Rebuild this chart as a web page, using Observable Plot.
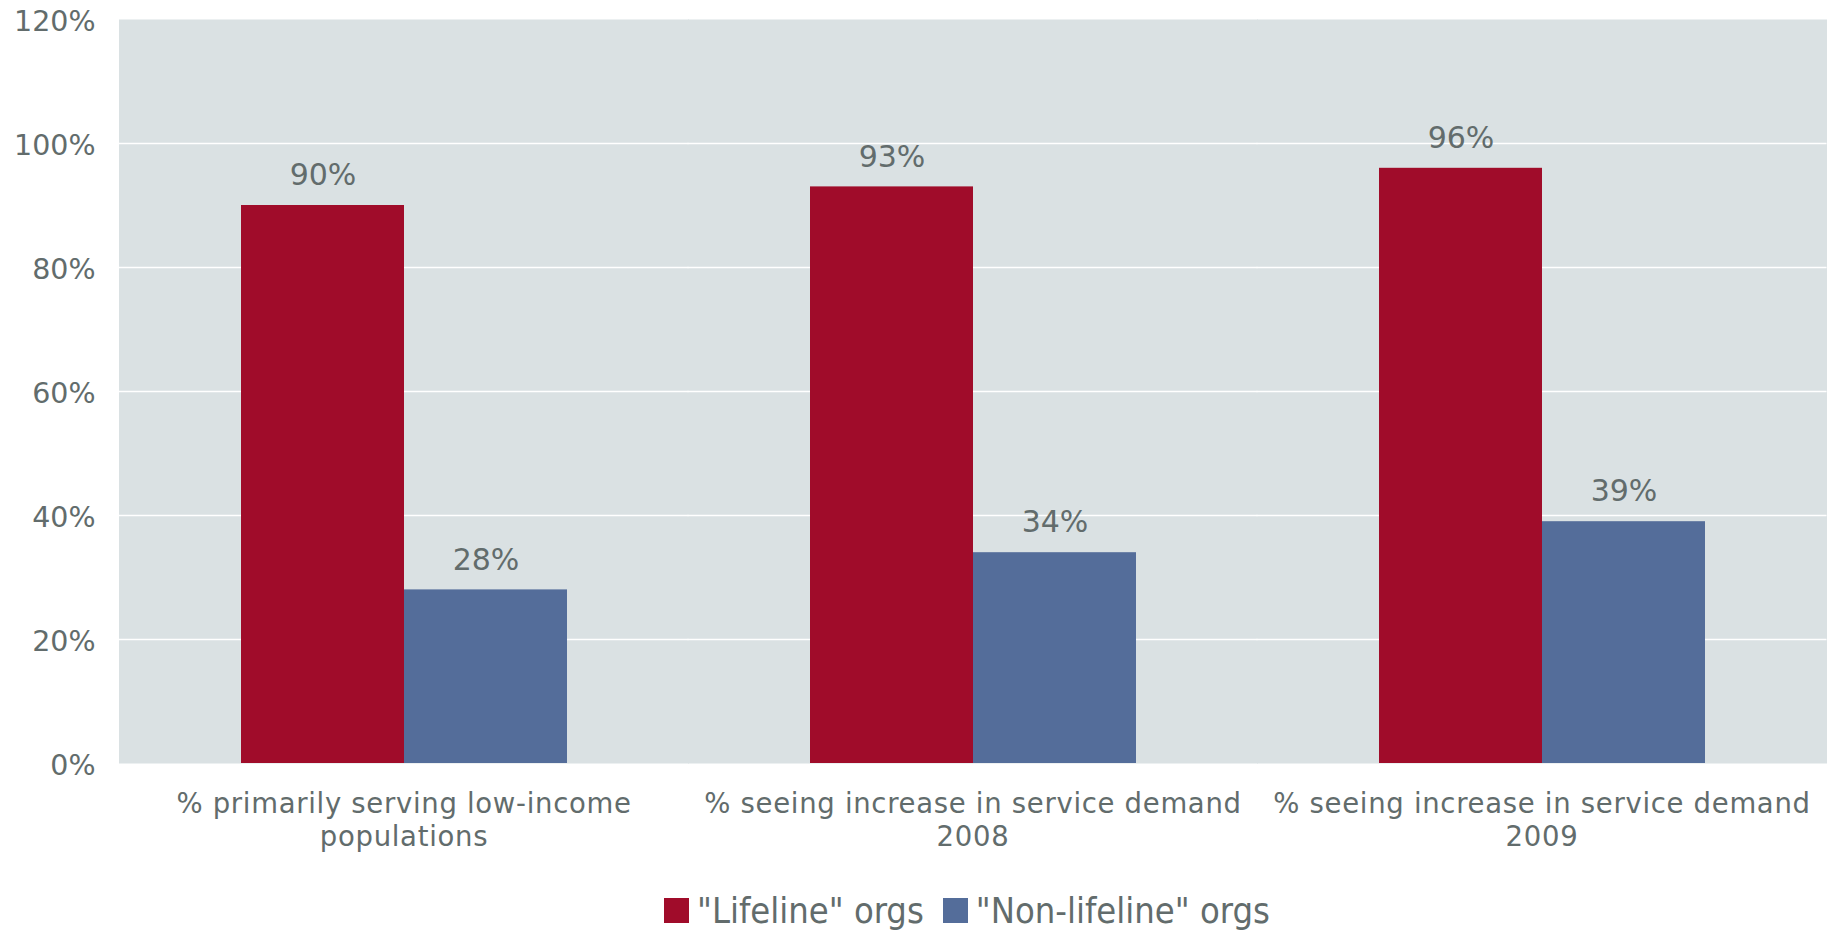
<!DOCTYPE html>
<html>
<head>
<meta charset="utf-8">
<script src="https://cdn.jsdelivr.net/npm/d3@7"></script>
<script src="https://cdn.jsdelivr.net/npm/@observablehq/plot@0.6"></script>
<style>
  html, body { margin: 0; padding: 0; background: #ffffff; }
  #wrap { position: relative; width: 1834px; height: 932px; overflow: hidden; }
  g[aria-label="fx-axis tick label"] { letter-spacing: 0.7px; }
  #legend {
    position: absolute; left: 664px; top: 892px; height: 37px;
    font-family: "DejaVu Sans Condensed", "DejaVu Sans", sans-serif;
    font-size: 36px; line-height: 37px; white-space: nowrap; color: #626c6c;
  }
  #legend .sw { display: inline-block; width: 25px; height: 25px; vertical-align: baseline; margin-right: 8px; }
  #legend .item { margin-right: 19px; }
</style>
</head>
<body>
<div id="wrap"><div id="chart"></div><div id="legend"></div></div>
<script>
// ---- data ----
const categories = [
  "% primarily serving low-income\npopulations",
  "% seeing increase in service demand\n2008",
  "% seeing increase in service demand\n2009"
];
const seriesNames = ['"Lifeline" orgs', '"Non-lifeline" orgs'];
const lifeline = [90, 93, 96];
const nonLifeline = [28, 34, 39];
const yTicks = [0, 20, 40, 60, 80, 100, 120];
const gridTicks = [20, 40, 60, 80, 100];
const seriesColors = ["#a00c2a", "#546d9a"];

// ---- table ----
const rows = [];
categories.forEach((c, i) => {
  rows.push({category: c, series: seriesNames[0], value: lifeline[i]});
  rows.push({category: c, series: seriesNames[1], value: nonLifeline[i]});
});

const textColor = "#626c6c";

const chart = Plot.plot({
  width: 1834,
  height: 870,
  marginLeft: 119,
  marginRight: 8,
  marginTop: 19,
  marginBottom: 107,
  style: {fontFamily: "'DejaVu Sans', Verdana, sans-serif", background: "transparent"},
  fx: {domain: categories, padding: 0, label: null},
  x: {domain: seriesNames, paddingInner: 0, paddingOuter: 0.745, axis: null, label: null},
  y: {domain: [0, 120], label: null, axis: null},
  color: {domain: seriesNames, range: seriesColors},
  marks: [
    Plot.frame({fill: "#dae1e3", stroke: null, insetLeft: -0.5, insetRight: -0.5}),
    Plot.ruleY(gridTicks, {stroke: "#ffffff", strokeWidth: 1.3, insetLeft: -0.5, insetRight: -0.5}),
    Plot.barY(rows, {fx: "category", x: "series", y: "value", fill: "series"}),
    Plot.text(rows, {
      fx: "category", x: "series", y: "value",
      text: d => d.value + "%",
      dy: -30, fontSize: 30, fill: textColor
    }),
    Plot.axisY({
      ticks: yTicks, tickFormat: d => d + "%", tickSize: 0, tickPadding: 24,
      fontSize: 28.5, fill: textColor, label: null, dy: 2
    }),
    Plot.axisFx({
      anchor: "bottom",
      tickSize: 0, tickPadding: 26, fontSize: 27.5, lineHeight: 1.2,
      fill: textColor, label: null
    })
  ]
});
document.getElementById("chart").appendChild(chart);

// ---- legend ----
const legend = document.getElementById("legend");
seriesNames.forEach((name, i) => {
  const item = document.createElement("span");
  item.className = "item";
  const sw = document.createElement("span");
  sw.className = "sw";
  sw.style.background = seriesColors[i];
  item.appendChild(sw);
  item.appendChild(document.createTextNode(name));
  legend.appendChild(item);
});
</script>
</body>
</html>
